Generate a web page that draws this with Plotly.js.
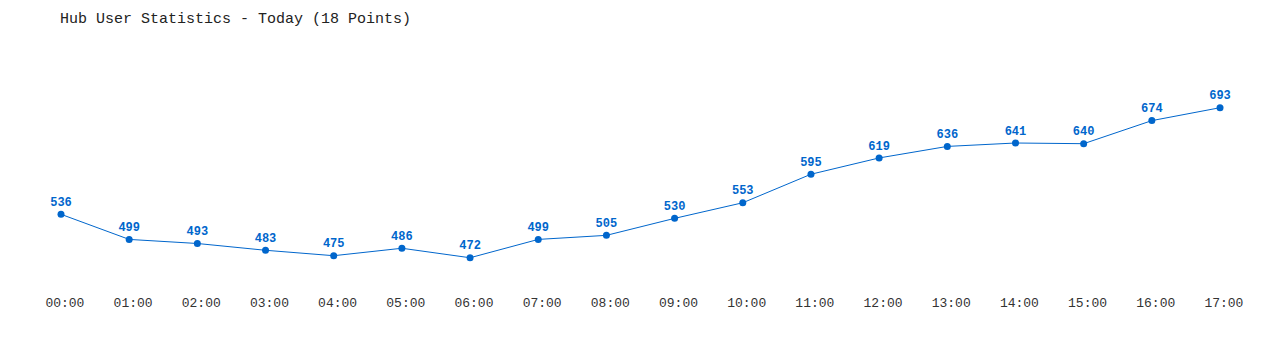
<!DOCTYPE html>
<html>
<head>
<meta charset="utf-8">
<script src="https://cdn.plot.ly/plotly-3.0.1.min.js"></script>
<style>html,body{margin:0;padding:0;background:#fff;}#chart{width:1280px;height:350px;}</style>
</head>
<body>
<div id="chart"></div>
<script>
const hours = ["00:00","01:00","02:00","03:00","04:00","05:00","06:00","07:00","08:00","09:00","10:00","11:00","12:00","13:00","14:00","15:00","16:00","17:00"];
const users = [536,499,493,483,475,486,472,499,505,530,553,595,619,636,641,640,674,693];
const tickLabels = hours.map(h => "\u00a0" + h);
const chartTitle = "Hub User Statistics - Today (18 Points)";

const blue = "#0066cc";
const mono = "'Liberation Mono', 'DejaVu Sans Mono', monospace";

const trace = {
  x: hours,
  y: users,
  type: "scatter",
  mode: "lines+markers+text",
  line: {color: blue, width: 1},
  marker: {color: blue, size: 7},
  text: users.map(String),
  textposition: "top center",
  textfont: {family: mono, size: 12, color: blue, weight: "bold"},
  hoverinfo: "x+y",
  cliponaxis: false
};

const layout = {
  width: 1280,
  height: 350,
  paper_bgcolor: "#ffffff",
  plot_bgcolor: "#ffffff",
  showlegend: false,
  margin: {l: 40, r: 40, t: 50, b: 60},
  title: {
    text: chartTitle,
    font: {family: mono, size: 15, color: "#222222"},
    xref: "container", x: 60/1280, xanchor: "left",
    yref: "container", y: 1 - 18/350, yanchor: "middle"
  },
  xaxis: {
    type: "category",
    range: [-0.308, 17.293],
    tickvals: hours,
    ticktext: tickLabels,
    showgrid: false, zeroline: false, showline: false,
    ticks: "",
    ticklabelstandoff: 3,
    tickfont: {family: mono, size: 13, color: "#333333"}
  },
  yaxis: {
    range: [424.5, 778],
    showgrid: false, zeroline: false, showline: false,
    showticklabels: false, ticks: ""
  }
};

Plotly.newPlot("chart", [trace], layout, {displayModeBar: false, staticPlot: true});
</script>
</body>
</html>
